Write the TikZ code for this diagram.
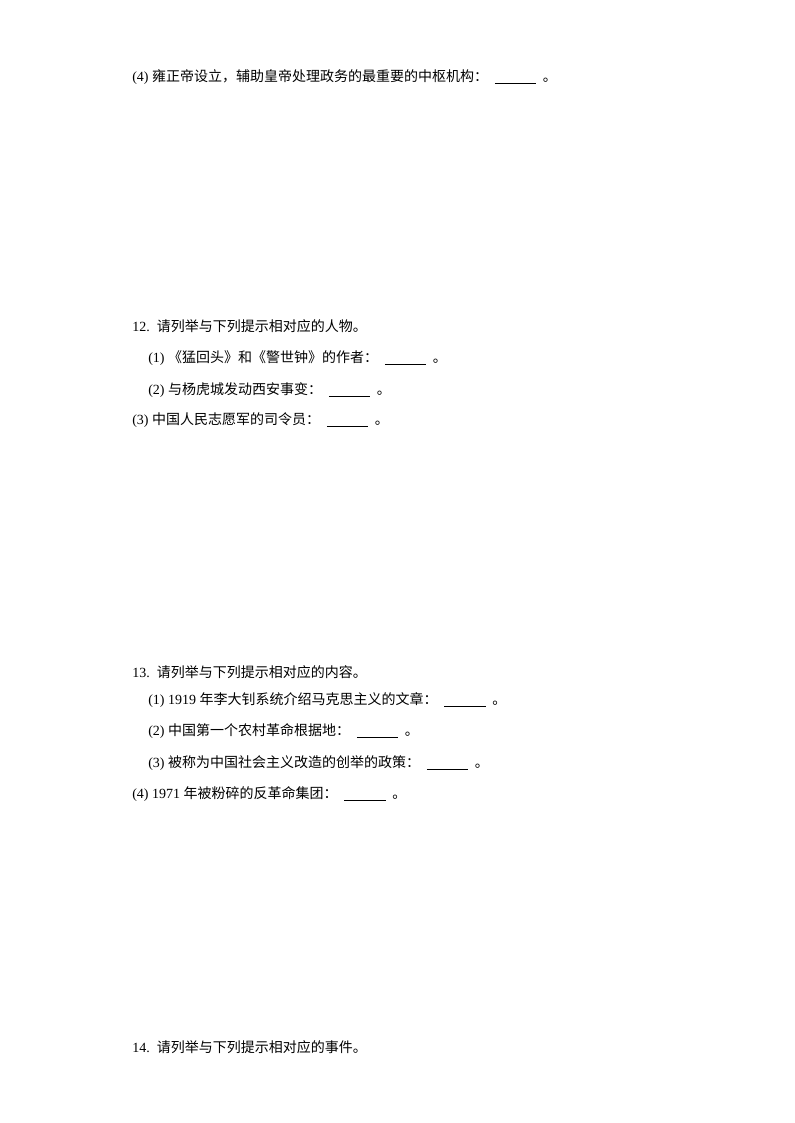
\documentclass[tikz,border=0pt]{standalone}
\usepackage{fontspec}
\setmainfont{Liberation Serif}
\newfontfamily\cjk{Noto Sans CJK SC}
\newcommand{\blank}{\underline{\hspace{31pt}}}
\newcommand{\tail}{\hspace{5pt}\blank\hspace{5pt}{\cjk 。}}
\begin{document}
\begin{tikzpicture}[x=0.75pt,y=-0.75pt,
  txt/.style={anchor=west,inner sep=0pt,font=\fontsize{10.5pt}{12pt}\selectfont}]
\useasboundingbox (0,0) rectangle (794,1123);
\node[txt] (a4) at (132,77) {(4) {\cjk 雍正帝设立，辅助皇帝处理政务的最重要的中枢机构：}\tail};
\node[txt] (q12) at (132,326) {12.\ \ {\cjk 请列举与下列提示相对应的人物。}};
\node[txt] (b1) at (148,358) {(1) {\cjk 《猛回头》和《警世钟》的作者：}\tail};
\node[txt] (b2) at (148,390) {(2) {\cjk 与杨虎城发动西安事变：}\tail};
\node[txt] (b3) at (132,420) {(3) {\cjk 中国人民志愿军的司令员：}\tail};
\node[txt] (q13) at (132,672) {13.\ \ {\cjk 请列举与下列提示相对应的内容。}};
\node[txt] (c1) at (148,700) {(1) 1919 {\cjk 年李大钊系统介绍马克思主义的文章：}\tail};
\node[txt] (c2) at (148,731) {(2) {\cjk 中国第一个农村革命根据地：}\tail};
\node[txt] (c3) at (148,763) {(3) {\cjk 被称为中国社会主义改造的创举的政策：}\tail};
\node[txt] (c4) at (132,794) {(4) 1971 {\cjk 年被粉碎的反革命集团：}\tail};
\node[txt] (q14) at (132,1047) {14.\ \ {\cjk 请列举与下列提示相对应的事件。}};
\end{tikzpicture}
\end{document}
